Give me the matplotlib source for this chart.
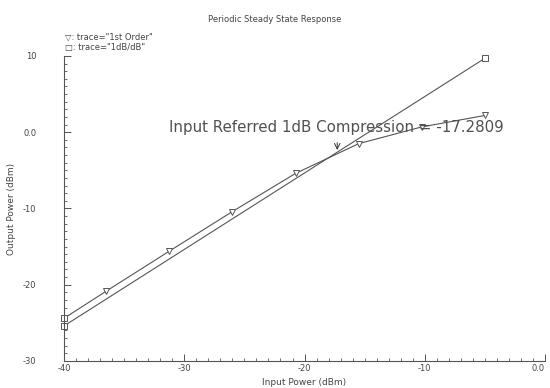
import matplotlib
matplotlib.use("Agg")
import matplotlib.pyplot as plt
from matplotlib.ticker import MultipleLocator

# Donnees
pin_1st = [-40, -36.5, -31.25, -26.0, -20.75, -15.5, -10.25, -5.0]
pout_1st = [-24.4, -20.85, -15.6, -10.4, -5.4, -1.5, 0.7, 2.2]
pin_ref = [-40, -5.0]
pout_ref = [-25.4, 9.7]
p1db_in = -17.2809
p1db_out = -2.7

x_ticks = [-40, -30, -20, -10, 0]
x_labels = ["-40", "-30", "-20", "-10", "0.0"]
y_ticks = [-30, -20, -10, 0, 10]
y_labels = ["-30", "-20", "-10", "0.0", "10"]

gris = "#555555"
texte = "#444444"
style_marq = dict(markersize=4, markerfacecolor="white", markeredgecolor=gris,
                  markeredgewidth=0.7, clip_on=False)

fig = plt.figure(figsize=(5.5, 3.88), dpi=100)
ax = fig.add_axes([0.1164, 0.0696, 0.8746, 0.7861])

# Traces
ax.plot(pin_1st, pout_1st, color=gris, linewidth=0.8, clip_on=False)
ax.plot(pin_1st[1:], pout_1st[1:], linestyle="none", marker="v", **style_marq)
ax.plot(pin_1st[:1], pout_1st[:1], linestyle="none", marker="s", **style_marq)
ax.plot(pin_ref, pout_ref, color=gris, linewidth=0.8, marker="s", **style_marq)

# Annotation du point de compression
ax.annotate("", xy=(p1db_in, p1db_out), xytext=(p1db_in, p1db_out + 1.7),
            arrowprops=dict(arrowstyle="->", color="#333333", lw=0.7))
ax.text(-31.3, 0.6, "Input Referred 1dB Compression = %.4f" % p1db_in,
        fontsize=10.8, color="#505050", va="center", ha="left")

# Axes
ax.set_xlim(-40, 0)
ax.set_ylim(-30, 10)
ax.set_xticks(x_ticks)
ax.set_xticklabels(x_labels)
ax.set_yticks(y_ticks)
ax.set_yticklabels(y_labels)
ax.xaxis.set_minor_locator(MultipleLocator(1))
ax.yaxis.set_minor_locator(MultipleLocator(1))
ax.tick_params(which="major", direction="in", length=5, width=0.7, color=gris,
               labelsize=6, labelcolor=texte)
ax.tick_params(which="minor", direction="in", length=2.5, width=0.6, color=gris)
ax.tick_params(axis="y", which="major", pad=20)
ax.tick_params(axis="x", which="major", pad=2)
ax.get_xticklabels()[-1].set_horizontalalignment("right")
for cote in ["top", "right"]:
    ax.spines[cote].set_visible(False)
for cote in ["left", "bottom"]:
    ax.spines[cote].set_color(gris)
    ax.spines[cote].set_linewidth(0.8)

ax.set_xlabel("Input Power (dBm)", fontsize=6.5, color=texte, labelpad=4)
ax.set_ylabel("Output Power (dBm)", fontsize=6.5, color=texte)
ax.yaxis.set_label_coords(-0.1, 0.5)

# Titre et legende
fig.text(0.5, 0.951, "Periodic Steady State Response", fontsize=6, color=texte,
         ha="center", va="center")
fig.text(0.118, 0.905, "\u25bd: trace=\"1st Order\"", fontsize=6, color=texte,
         ha="left", va="center")
fig.text(0.118, 0.877, "\u25a1: trace=\"1dB/dB\"", fontsize=6, color=texte,
         ha="left", va="center")

fig.savefig("out.png", dpi=100)
